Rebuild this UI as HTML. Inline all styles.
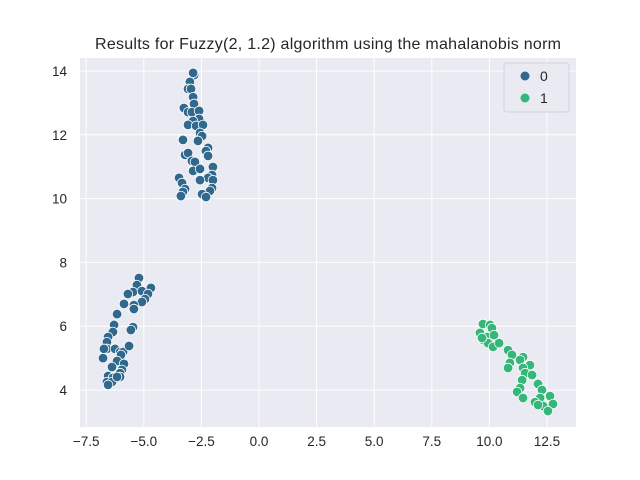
<!DOCTYPE html>
<html><head><meta charset="utf-8"><style>
body{margin:0;background:#fff;}
svg{display:block;font-family:"Liberation Sans","DejaVu Sans",sans-serif;}
</style></head><body>
<svg id="chart" width="640" height="480">
<rect x="0" y="0" width="640" height="480" fill="#fff"/>
<rect x="80" y="58" width="496" height="369" fill="#eaeaf2"/>
<g id="grid"></g><g id="ticks"></g><g id="points"></g>
<text x="328" y="49" text-anchor="middle" font-size="16" fill="#262626" textLength="466">Results for Fuzzy(2, 1.2) algorithm using the mahalanobis norm</text>
<g>
<rect x="504" y="63" width="65" height="49" rx="3" fill="#eaeaf2" stroke="#d0d0d8" stroke-width="1" opacity="0.9"/>
<circle cx="525" cy="76" r="4.5" fill="#31688e"/>
<text x="540" y="81" font-size="14" fill="#262626">0</text>
<circle cx="525" cy="98" r="4.5" fill="#35b779"/>
<text x="540" y="103" font-size="14" fill="#262626">1</text>
</g>
</svg>
<script>
const xTicks=[-7.5,-5.0,-2.5,0.0,2.5,5.0,7.5,10.0,12.5];
const yTicks=[4,6,8,10,12,14];
const cluster0X=[-2.82,-2.86,-3.0,-3.08,-2.95,-2.86,-2.82,-3.26,-3.08,-2.91,-2.60,-2.60,-2.86,-3.08,-2.73,-2.43,-2.56,-2.47,-2.65,-3.30,-2.21,-2.30,-2.21,-3.21,-3.08,-2.91,-2.78,-2.86,-2.56,-2.0,-2.04,-2.21,-2.56,-2.0,-3.47,-3.34,-3.21,-3.30,-2.04,-2.13,-2.47,-2.30,-3.39,
-5.21,-5.30,-4.69,-5.47,-5.08,-4.82,-5.69,-4.95,-5.08,-5.86,-5.43,-5.43,-6.16,-6.29,-6.34,-5.47,-5.56,-6.55,-6.60,-6.60,-6.73,-6.25,-6.03,-5.90,-5.64,-5.99,-6.77,-6.16,-5.86,-6.38,-5.95,-6.03,-6.55,-6.34,-6.60,-6.38,-6.03,-6.55,-6.16];
const cluster0Y=[13.87,13.94,13.66,13.44,13.44,13.18,12.97,12.84,12.71,12.71,12.75,12.50,12.43,12.31,12.28,12.31,12.06,11.96,11.81,11.84,11.59,11.49,11.34,11.37,11.43,11.18,11.15,10.87,10.93,10.99,10.74,10.65,10.58,10.58,10.65,10.49,10.30,10.21,10.33,10.24,10.14,10.05,10.08,
7.51,7.29,7.20,7.07,7.10,7.01,7.01,6.85,6.76,6.70,6.66,6.54,6.38,6.04,5.82,5.97,5.88,5.66,5.50,5.29,5.29,5.29,5.19,5.19,5.38,5.10,5.00,4.91,4.82,4.72,4.63,4.53,4.44,4.38,4.25,4.25,4.41,4.16,4.41];
const cluster1X=[9.72,10.03,10.11,9.59,9.90,10.20,9.72,9.94,10.16,10.42,9.68,10.81,10.98,11.46,11.33,10.89,11.76,11.46,10.81,11.55,11.85,11.42,12.11,11.33,11.20,11.46,12.28,12.63,12.20,11.98,12.33,12.76,12.54,12.11];
const cluster1Y=[6.07,6.04,5.94,5.79,5.66,5.72,5.57,5.47,5.35,5.47,5.63,5.25,5.10,5.03,4.94,4.85,4.78,4.69,4.69,4.53,4.47,4.31,4.19,4.06,3.94,3.75,4.00,3.81,3.75,3.62,3.50,3.56,3.34,3.53];
const NS="http://www.w3.org/2000/svg";
const sx=v=>259+v*23.04;
const sy=v=>390-(v-4)*31.9;
const grid=document.getElementById('grid'),ticks=document.getElementById('ticks'),pts=document.getElementById('points');
function mk(tag,attrs,parent){const e=document.createElementNS(NS,tag);for(const k in attrs)e.setAttribute(k,attrs[k]);parent.appendChild(e);return e;}
xTicks.forEach(t=>{
  const l=mk('line',{x1:sx(t),x2:sx(t),y1:58,y2:427,stroke:'#fff','stroke-width':1},grid);
  
  
  const tx=mk('text',{x:sx(t),y:446,'text-anchor':'middle','font-size':13.5,fill:'#262626'},ticks);
  tx.textContent=(t<0?'\u2212':'')+Math.abs(t).toFixed(1);
  
  
});
yTicks.forEach(t=>{
  const l=mk('line',{x1:80,x2:576,y1:sy(t),y2:sy(t),stroke:'#fff','stroke-width':1},grid);
  
  
  const tx=mk('text',{x:67,y:sy(t)+5,'text-anchor':'end','font-size':13.5,fill:'#262626'},ticks);
  tx.textContent=t;
  
  
});
function draw(xs,ys,color,name){
  xs.forEach((x,i)=>{
    const c=mk('circle',{cx:sx(x),cy:sy(ys[i]),r:4.8,fill:color,stroke:'#fff','stroke-width':0.8},pts);
    
    
  });
}
draw(cluster0X,cluster0Y,'#31688e','point-cluster-0');
draw(cluster1X,cluster1Y,'#35b779','point-cluster-1');
</script>
</body></html>
